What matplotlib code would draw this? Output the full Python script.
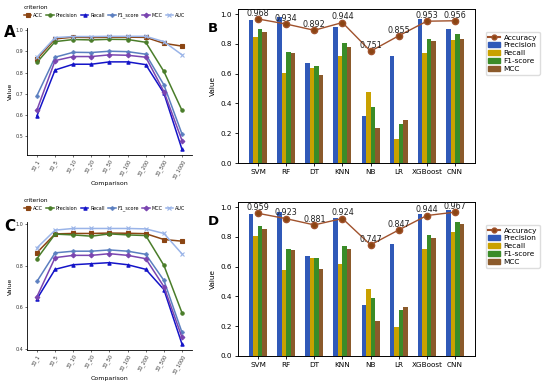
import numpy as np
import matplotlib.pyplot as plt
from matplotlib.lines import Line2D
from matplotlib.patches import Patch

# ---- left panels (A, C): metrics vs comparison ----
comparisons = ['30_1', '30_5', '30_10', '30_20', '30_50', '30_100', '30_200', '30_500', '30_1000']
criteria = ['ACC', 'Precision', 'Recall', 'F1_score', 'MCC', 'AUC']

a_acc = [0.863, 0.958, 0.966, 0.964, 0.966, 0.966, 0.965, 0.937, 0.924]
a_prec = [0.848, 0.945, 0.955, 0.953, 0.956, 0.955, 0.942, 0.805, 0.622]
a_rec = [0.597, 0.812, 0.839, 0.839, 0.850, 0.850, 0.837, 0.703, 0.439]
a_f1 = [0.692, 0.872, 0.895, 0.894, 0.900, 0.898, 0.886, 0.742, 0.511]
a_mcc = [0.625, 0.856, 0.875, 0.875, 0.883, 0.881, 0.872, 0.711, 0.481]
a_auc = [0.872, 0.964, 0.969, 0.969, 0.970, 0.970, 0.970, 0.945, 0.883]

c_acc = [0.863, 0.953, 0.955, 0.955, 0.957, 0.956, 0.954, 0.926, 0.918]
c_prec = [0.834, 0.952, 0.948, 0.942, 0.953, 0.948, 0.945, 0.802, 0.574]
c_rec = [0.641, 0.783, 0.805, 0.810, 0.815, 0.805, 0.783, 0.686, 0.424]
c_f1 = [0.725, 0.862, 0.870, 0.870, 0.876, 0.870, 0.855, 0.730, 0.480]
c_mcc = [0.652, 0.839, 0.850, 0.850, 0.858, 0.850, 0.834, 0.700, 0.456]
c_auc = [0.886, 0.971, 0.979, 0.979, 0.979, 0.979, 0.977, 0.955, 0.857]

line_colors = ['#8b4513', '#4a7d2a', '#1414c8', '#5b7fc0', '#7a45b0', '#9ab4e8']
line_markers = ['s', 'o', '^', 'P', 'D', 'x']

# ---- right panels (B, D): classifiers ----
models = ['SVM', 'RF', 'DT', 'KNN', 'NB', 'LR', 'XGBoost', 'CNN']
b_acc = [0.968, 0.934, 0.892, 0.944, 0.751, 0.855, 0.953, 0.956]
b_prec = [0.959, 0.984, 0.672, 0.916, 0.316, 0.718, 0.971, 0.898]
b_rec = [0.846, 0.605, 0.638, 0.718, 0.474, 0.160, 0.736, 0.830]
b_f1 = [0.898, 0.747, 0.655, 0.808, 0.379, 0.260, 0.835, 0.865]
b_mcc = [0.883, 0.740, 0.592, 0.779, 0.237, 0.289, 0.819, 0.835]

d_acc = [0.959, 0.923, 0.881, 0.924, 0.747, 0.847, 0.944, 0.967]
d_prec = [0.951, 0.966, 0.669, 0.926, 0.340, 0.754, 0.955, 0.984]
d_rec = [0.805, 0.579, 0.660, 0.615, 0.452, 0.195, 0.716, 0.832]
d_f1 = [0.872, 0.720, 0.660, 0.740, 0.389, 0.306, 0.814, 0.899]
d_mcc = [0.855, 0.714, 0.588, 0.720, 0.237, 0.329, 0.794, 0.884]

bar_names = ['Precision', 'Recall', 'F1-score', 'MCC']
bar_colors = ['#3059b8', '#c9a100', '#3a8c28', '#8b5a2b']
acc_color = '#a0522d'

fig = plt.figure(figsize=(5.5, 3.81), dpi=100)


def line_panel(rect, series, yticks, ylim, letter, legend_y):
    ax = fig.add_axes(rect)
    x = np.arange(len(comparisons))
    handles = []
    for vals, name, col, mk in zip(series, criteria, line_colors, line_markers):
        h, = ax.plot(x, vals, color=col, marker=mk, markersize=2.4, linewidth=1.1,
                     markeredgewidth=0.8, label=name)
        handles.append(h)
    ax.set_xlim(-0.55, 8.55)
    ax.set_ylim(*ylim)
    ax.set_yticks(yticks)
    ax.set_yticklabels([f'{t:.1f}' for t in yticks])
    ax.set_xticks(x)
    ax.set_xticklabels(comparisons, rotation=60, ha='right', rotation_mode='anchor')
    ax.tick_params(labelsize=3.5, length=1.5, width=0.5, pad=1, colors='#333333')
    for s in ['top', 'right']:
        ax.spines[s].set_visible(False)
    for s in ['left', 'bottom']:
        ax.spines[s].set_linewidth(0.6)
    ax.set_ylabel('Value', fontsize=4.5, labelpad=2)
    ax.set_xlabel('Comparison', fontsize=4.5, labelpad=1)
    leg = fig.legend(handles=handles, loc='upper left', bbox_to_anchor=(0.035, legend_y),
                     ncol=6, fontsize=3.5, title='criterion', title_fontsize=4.2,
                     frameon=False, handlelength=1.6, columnspacing=0.6, handletextpad=0.4)
    leg._legend_box.align = 'left'
    fig.text(0.008, rect[1] + rect[3] - 0.012, letter, fontsize=11, fontweight='bold',
             va='center', ha='left')
    return ax


def bar_panel(rect, prec, rec, f1, mcc, acc, letter, legend_y):
    ax = fig.add_axes(rect)
    x = np.arange(len(models))
    w = 0.16
    for i, (vals, col) in enumerate(zip([prec, rec, f1, mcc], bar_colors)):
        ax.bar(x + (i - 1.5) * w, vals, width=w, color=col)
    ax.plot(x, acc, color=acc_color, marker='o', markersize=4.5, linewidth=1.0,
            markerfacecolor='#8b4513', markeredgecolor='#a0522d')
    for xi, a in zip(x, acc):
        ax.text(xi, a + 0.008, f'{a:.3f}', ha='center', va='bottom', fontsize=5.8,
                color='#222222')
    ax.set_xlim(-0.71, 7.71)
    ax.set_ylim(0, 1.035)
    ax.set_xticks(x)
    ax.set_xticklabels(models)
    ax.set_yticks(np.arange(0, 1.01, 0.2))
    ax.tick_params(labelsize=5.2, length=2.5, width=0.6, pad=2)
    for s in ax.spines.values():
        s.set_linewidth(0.7)
    ax.set_ylabel('Value', fontsize=5.2, labelpad=3)
    handles = [Line2D([0], [0], color=acc_color, marker='o', markersize=3.5,
                      markerfacecolor='#8b4513', label='Accuracy')]
    handles += [Patch(color=c, label=n) for c, n in zip(bar_colors, bar_names)]
    fig.legend(handles=handles, loc='upper left', bbox_to_anchor=(0.883, legend_y),
               fontsize=5.3, frameon=True, handlelength=1.6, handleheight=0.6,
               handletextpad=0.5, borderpad=0.35, labelspacing=0.25, fancybox=True,
               framealpha=1, edgecolor='#dddddd', borderaxespad=0)
    fig.text(208 / 550, rect[1] + rect[3] - 0.05, letter, fontsize=9.5, fontweight='bold',
             va='center', ha='left')
    return ax


line_panel([27 / 550, 1 - 155 / 381, 165 / 550, 127 / 381],
           [a_acc, a_prec, a_rec, a_f1, a_mcc, a_auc],
           [0.5, 0.6, 0.7, 0.8, 0.9, 1.0], (0.413, 1.009), 'A', 1 - 1 / 381)
line_panel([27 / 550, 1 - 350 / 381, 165 / 550, 128 / 381],
           [c_acc, c_prec, c_rec, c_f1, c_mcc, c_auc],
           [0.4, 0.6, 0.8, 1.0], (0.396, 1.01), 'C', 1 - 194 / 381)

bar_panel([238 / 550, 1 - 163 / 381, 237 / 550, 154 / 381],
          b_prec, b_rec, b_f1, b_mcc, b_acc, 'B', 1 - 32 / 381)
bar_panel([238 / 550, 1 - 356 / 381, 237 / 550, 154 / 381],
          d_prec, d_rec, d_f1, d_mcc, d_acc, 'D', 1 - 225 / 381)

fig.savefig('out.png', dpi=100)
